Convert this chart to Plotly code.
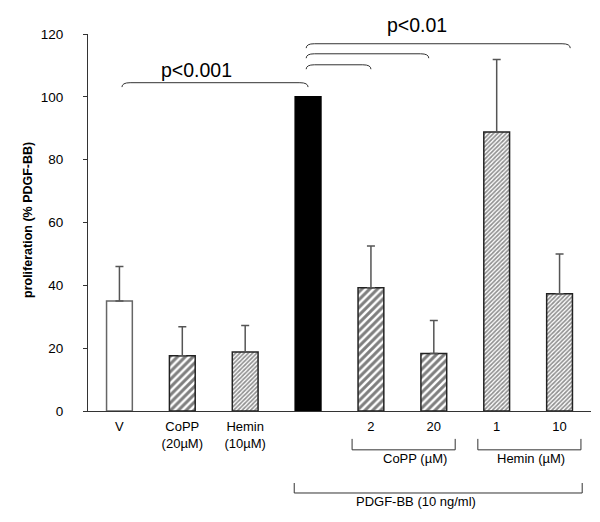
import plotly.graph_objects as go

# ---- data ----
categories = ["V", "CoPP (20µM)", "Hemin (10µM)", "PDGF-BB",
              "PDGF-BB + CoPP 2", "PDGF-BB + CoPP 20",
              "PDGF-BB + Hemin 1", "PDGF-BB + Hemin 10"]
values = [35, 17.6, 18.8, 100, 39.2, 18.3, 88.8, 37.3]
errors = [11, 9.2, 8.4, None, 13.3, 10.5, 23.1, 12.7]
tick_labels = ["V", "CoPP<br>(20µM)", "Hemin<br>(10µM)", "", "2", "20", "1", "10"]
y_ticks = [0, 20, 40, 60, 80, 100, 120]

# ---- styles ----
pat_shape = ["", "/", "/", "", "/", "/", "/", "/"]
pat_size = [8, 5.5, 3, 8, 5.5, 5.5, 3, 3]
pat_sol = [0.3, 0.55, 0.55, 0.3, 0.55, 0.55, 0.55, 0.55]
pat_fg = ["black", "black", "#222", "black", "black", "black", "#222", "#222"]
fill = ["white", "white", "white", "black", "white", "white", "white", "white"]
outline = ["#666", "#222", "#222", "black", "#222", "#222", "#222", "#222"]

x = list(range(len(categories)))

fig = go.Figure()
for i in x:
    err = errors[i]
    fig.add_trace(go.Bar(
        x=[x[i]], y=[values[i]], width=0.41,
        marker=dict(
            color=fill[i],
            line=dict(color=outline[i], width=1.5),
            pattern=dict(shape=pat_shape[i], size=pat_size[i], solidity=pat_sol[i],
                         fgcolor=pat_fg[i], bgcolor=fill[i], fillmode="overlay"),
        ),
        error_y=dict(type="data", array=[err], arrayminus=[0], symmetric=False,
                     visible=err is not None, color="#555", thickness=1.5, width=4),
        name=categories[i],
        showlegend=False,
    ))

line_style = dict(color="#333", width=1)

# top brackets with curved ends (data coords)
def top_bracket(x0, x1, y, dx=0.13, dy=1.4):
    path = (f"M {x0},{y - dy} Q {x0},{y} {x0 + dx},{y} "
            f"L {x1 - dx},{y} Q {x1},{y} {x1},{y - dy}")
    fig.add_shape(type="path", path=path, xref="x", yref="y", line=line_style)

top_bracket(0.04, 3.0, 104.5)
top_bracket(2.97, 7.17, 116.9)
top_bracket(2.97, 4.92, 113.7)
top_bracket(2.97, 4.0, 110.2)

fig.add_annotation(x=1.23, y=108.6, xref="x", yref="y", text="p<0.001", showarrow=False,
                   font=dict(size=19.5, color="black"), yanchor="middle")
fig.add_annotation(x=4.73, y=1.024, xref="x", yref="paper", text="p<0.01", showarrow=False,
                   font=dict(size=19.5, color="black"), yanchor="middle")

# lower group brackets (x in data, y in paper)
def low_bracket(x0, x1, ytop, ybot):
    path = f"M {x0},{ytop} L {x0},{ybot} L {x1},{ybot} L {x1},{ytop}"
    fig.add_shape(type="path", path=path, xref="x", yref="paper", line=line_style)

low_bracket(3.70, 5.34, -0.074, -0.103)
low_bracket(5.70, 7.34, -0.074, -0.103)
low_bracket(2.78, 7.36, -0.191, -0.2175)

fig.add_annotation(x=4.70, y=-0.151, xref="x", yref="paper", text="CoPP (µM)",
                   showarrow=False, font=dict(size=13, color="black"))
fig.add_annotation(x=6.55, y=-0.151, xref="x", yref="paper", text="Hemin (µM)",
                   showarrow=False, font=dict(size=13, color="black"))
fig.add_annotation(x=4.72, y=-0.265, xref="x", yref="paper", text="PDGF-BB (10 ng/ml)",
                   showarrow=False, font=dict(size=13, color="black"))

# y-axis title
fig.add_annotation(x=-0.119, y=0.507, xref="paper", yref="paper",
                   xanchor="center", yanchor="middle",
                   text="<b>proliferation (% PDGF-BB)</b>", textangle=-90,
                   showarrow=False, font=dict(size=12.5, color="black"))

fig.update_layout(
    width=600, height=522,
    margin=dict(l=80, r=17, t=26, b=119),
    paper_bgcolor="white", plot_bgcolor="white",
    font=dict(family="Liberation Sans, Arial, sans-serif", color="black", size=13),
    barmode="overlay",
)
fig.update_xaxes(range=[-0.5, 7.5], tickvals=x, ticktext=tick_labels,
                 showline=True, linecolor="#333", linewidth=1, ticks="",
                 showgrid=False, zeroline=False, ticklabelstandoff=3,
                 tickfont=dict(size=13))
fig.update_yaxes(range=[0, 120], tickvals=y_ticks, showline=True, linecolor="#333",
                 linewidth=1, ticks="outside", ticklen=4, tickcolor="#333",
                 showgrid=False, zeroline=False, ticklabelstandoff=17,
                 tickfont=dict(size=13.5))

fig.write_html("out.html")
